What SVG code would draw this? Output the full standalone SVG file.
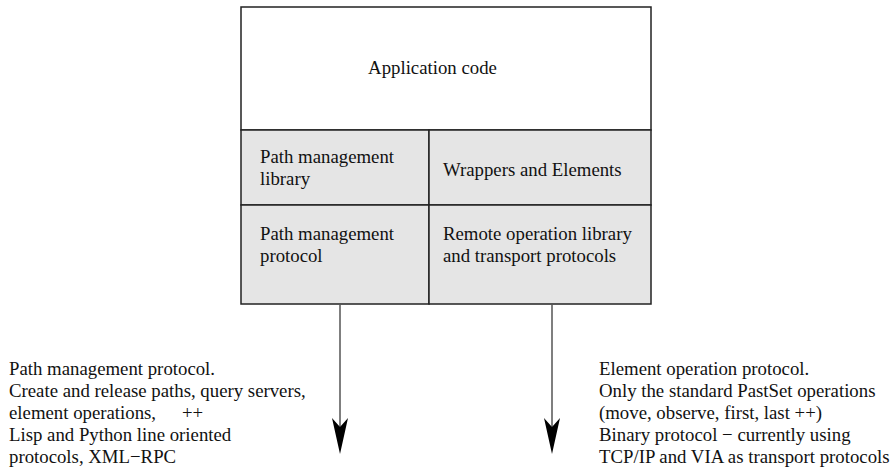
<svg xmlns="http://www.w3.org/2000/svg" width="895" height="474" viewBox="0 0 895 474">
<style>
text{font-family:"Liberation Serif","Times New Roman",serif;font-size:18.8px;fill:#111}
.box{stroke:#222;stroke-width:1.5}
.shaft{stroke:#555;stroke-width:1.5;fill:none}
.head{fill:#000}
</style>
<rect width="895" height="474" fill="#fff"/>
<g id="app">
<rect class="box" x="241" y="7" width="410" height="123" fill="#fff"/>
<text x="432.5" y="74" text-anchor="middle">Application code</text>
</g>
<g id="pmlib">
<rect class="box" x="241" y="130" width="188" height="75" fill="#e5e5e5"/>
<text x="260" y="163">Path management</text>
<text x="260" y="185">library</text>
</g>
<g id="wrappers">
<rect class="box" x="429" y="130" width="222" height="75" fill="#e5e5e5"/>
<text x="443" y="176">Wrappers and Elements</text>
</g>
<g id="pmproto">
<rect class="box" x="241" y="205" width="188" height="99" fill="#e5e5e5"/>
<text x="260" y="240">Path management</text>
<text x="260" y="262">protocol</text>
</g>
<g id="remote">
<rect class="box" x="429" y="205" width="222" height="99" fill="#e5e5e5"/>
<text x="443" y="240">Remote operation library</text>
<text x="443" y="262">and transport protocols</text>
</g>
<g id="connectors">
<line class="shaft" x1="340" y1="304" x2="340" y2="428"/>
<path class="head" d="M332,418 L340,427 L348,418 L340,454 Z"/>
<line class="shaft" x1="552" y1="304" x2="552" y2="428"/>
<path class="head" d="M544,418 L552,427 L560,418 L552,454 Z"/>
</g>
<g id="leftnote">
<text x="9" y="375">Path management protocol.</text>
<text x="9" y="397">Create and release paths, query servers,</text>
<text x="9" y="419">element operations,<tspan x="182">++</tspan></text>
<text x="9" y="441">Lisp and Python line oriented</text>
<text x="9" y="463">protocols, XML−RPC</text>
</g>
<g id="rightnote">
<text x="599" y="375">Element operation protocol.</text>
<text x="599" y="397">Only the standard PastSet operations</text>
<text x="599" y="419">(move, observe, first, last ++)</text>
<text x="599" y="441">Binary protocol − currently using</text>
<text x="599" y="463">TCP/IP and VIA as transport protocols</text>
</g>
</svg>
